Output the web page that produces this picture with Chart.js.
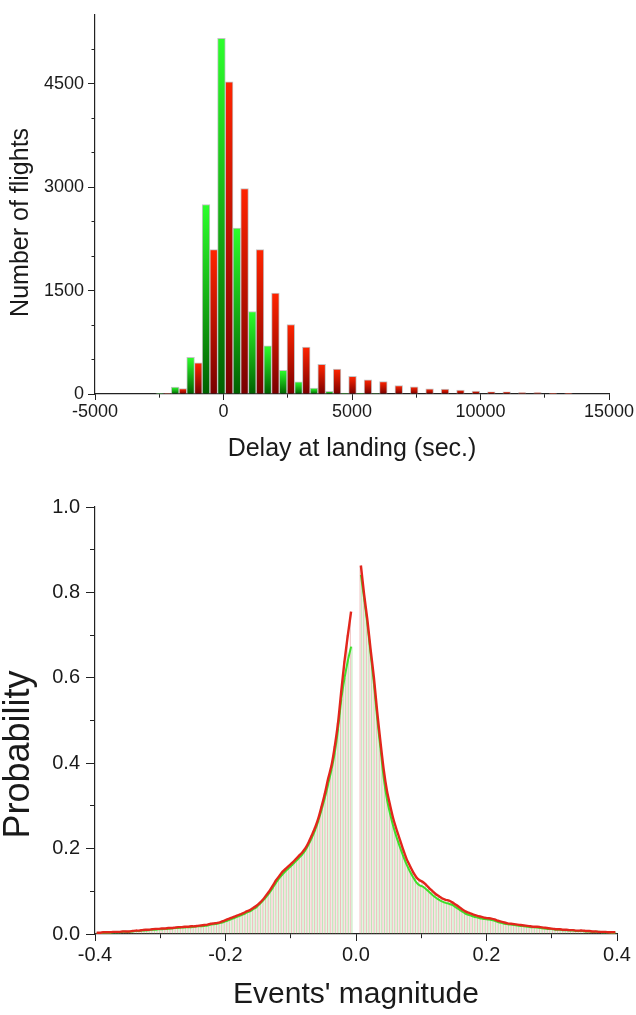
<!DOCTYPE html>
<html><head><meta charset="utf-8">
<script src="https://cdn.jsdelivr.net/npm/chart.js@4.4.0/dist/chart.umd.min.js"></script>
<style>
html,body{margin:0;padding:0;background:#fff;width:636px;height:1015px;overflow:hidden}
.box{position:absolute;left:0;width:636px}
canvas{display:block}
</style></head><body>
<div class="box" style="top:0;height:475px"><canvas id="c1" width="636" height="475"></canvas></div>
<div class="box" style="top:475px;height:540px"><canvas id="c2" width="636" height="540"></canvas></div>
<script>
// ---------- Top chart data: delay histogram (bin centres in seconds) ----------
const delayBins = [-2330,-1730,-1130,-530,70,670,1270,1870,2470,3070,3670,4270,4870,5470,6070,6670,7270,7870,8470,9070,9670,10270,10870,11470,12070,12670,13270];
const greenFlights = [8,100,532,2748,5160,2407,1196,698,342,176,85,38,14,14,5,null,null,null,null,null,null,null,null,null,null,null,null];
const redFlights = [8,80,451,2093,4529,2981,2093,1462,1008,680,430,360,255,205,180,123,104,76,71,57,43,33,33,19,19,9,9];
const delayTicksMajor = [-5000,0,5000,10000,15000];
const flightTicksMajor = [0,1500,3000,4500];

// ---------- Bottom chart data: probability vs events' magnitude ----------
const magnitude = [
-0.3975,-0.3925,-0.3875,-0.3825,-0.3775,-0.3725,-0.3675,-0.3625,-0.3575,-0.3525,
-0.3475,-0.3425,-0.3375,-0.3325,-0.3275,-0.3225,-0.3175,-0.3125,-0.3075,-0.3025,
-0.2975,-0.2925,-0.2875,-0.2825,-0.2775,-0.2725,-0.2675,-0.2625,-0.2575,-0.2525,
-0.2475,-0.2425,-0.2375,-0.2325,-0.2275,-0.2225,-0.2175,-0.2125,-0.2075,-0.2025,
-0.1975,-0.1925,-0.1875,-0.1825,-0.1775,-0.1725,-0.1675,-0.1625,-0.1575,-0.1525,
-0.1475,-0.1425,-0.1375,-0.1325,-0.1275,-0.1225,-0.1175,-0.1125,-0.1075,-0.1025,
-0.0975,-0.0925,-0.0875,-0.0825,-0.0775,-0.0725,-0.0675,-0.0625,-0.0575,-0.0525,
-0.0475,-0.0425,-0.0375,-0.0325,-0.0275,-0.0225,-0.0175,-0.0125,-0.0075,-0.0025,
0.0025,0.0075,0.0125,0.0175,0.0225,0.0275,0.0325,0.0375,0.0425,0.0475,
0.0525,0.0575,0.0625,0.0675,0.0725,0.0775,0.0825,0.0875,0.0925,0.0975,
0.1025,0.1075,0.1125,0.1175,0.1225,0.1275,0.1325,0.1375,0.1425,0.1475,
0.1525,0.1575,0.1625,0.1675,0.1725,0.1775,0.1825,0.1875,0.1925,0.1975,
0.2025,0.2075,0.2125,0.2175,0.2225,0.2275,0.2325,0.2375,0.2425,0.2475,
0.2525,0.2575,0.2625,0.2675,0.2725,0.2775,0.2825,0.2875,0.2925,0.2975,
0.3025,0.3075,0.3125,0.3175,0.3225,0.3275,0.3325,0.3375,0.3425,0.3475,
0.3525,0.3575,0.3625,0.3675,0.3725,0.3775,0.3825,0.3875,0.3925,0.3975];
const redProb = [
0.003,0.003,0.004,0.004,0.004,0.005,0.005,0.005,0.006,0.006,
0.006,0.007,0.008,0.008,0.009,0.010,0.010,0.011,0.012,0.012,
0.013,0.013,0.014,0.014,0.015,0.016,0.016,0.017,0.017,0.018,
0.018,0.019,0.020,0.021,0.022,0.024,0.025,0.026,0.028,0.031,
0.034,0.037,0.040,0.043,0.046,0.049,0.053,0.056,0.061,0.066,
0.073,0.081,0.091,0.101,0.113,0.126,0.136,0.146,0.153,0.160,
0.167,0.175,0.183,0.191,0.201,0.215,0.232,0.250,0.272,0.300,
0.330,0.365,0.395,0.440,0.495,0.570,0.640,0.700,0.755,null,
null,0.863,0.795,0.735,0.665,0.600,0.520,0.450,0.385,0.335,
0.300,0.268,0.243,0.220,0.197,0.176,0.160,0.145,0.133,0.126,
0.122,0.115,0.107,0.100,0.093,0.088,0.083,0.080,0.078,0.074,
0.069,0.064,0.058,0.053,0.050,0.047,0.044,0.042,0.040,0.038,
0.037,0.036,0.034,0.031,0.029,0.027,0.025,0.024,0.023,0.022,
0.021,0.020,0.019,0.018,0.017,0.017,0.016,0.015,0.014,0.013,
0.012,0.011,0.011,0.010,0.010,0.009,0.009,0.008,0.008,0.008,
0.007,0.007,0.006,0.006,0.005,0.005,0.005,0.004,0.004,0.004];
const greenProb = [
0.002,0.002,0.003,0.003,0.003,0.004,0.004,0.004,0.005,0.005,
0.005,0.006,0.007,0.007,0.008,0.008,0.009,0.010,0.010,0.011,
0.011,0.012,0.012,0.013,0.014,0.014,0.015,0.015,0.016,0.016,
0.017,0.018,0.018,0.019,0.020,0.022,0.023,0.024,0.026,0.028,
0.031,0.034,0.037,0.040,0.043,0.046,0.050,0.053,0.058,0.063,
0.070,0.078,0.087,0.097,0.108,0.120,0.131,0.140,0.148,0.155,
0.162,0.170,0.178,0.186,0.196,0.210,0.226,0.244,0.266,0.292,
0.320,0.352,0.385,0.425,0.480,0.550,0.600,0.640,0.673,null,
null,0.841,0.785,0.725,0.655,0.585,0.505,0.435,0.365,0.315,
0.280,0.250,0.225,0.203,0.182,0.163,0.147,0.133,0.121,0.114,
0.111,0.105,0.098,0.091,0.085,0.080,0.076,0.073,0.071,0.068,
0.063,0.058,0.053,0.048,0.045,0.042,0.040,0.038,0.036,0.035,
0.034,0.033,0.031,0.028,0.026,0.024,0.023,0.022,0.021,0.020,
0.019,0.018,0.017,0.016,0.016,0.015,0.014,0.013,0.012,0.012,
0.011,0.010,0.010,0.009,0.009,0.008,0.008,0.007,0.007,0.007,
0.006,0.006,0.005,0.005,0.005,0.004,0.004,0.004,0.003,0.003];

const FONT = "'Liberation Sans', Arial, Helvetica, sans-serif";
const INK = '#1a1a1a';

function barGradient(topColor, bottomColor) {
  return (ctx) => {
    const chart = ctx.chart;
    if (!chart.chartArea || ctx.type !== 'data' || !ctx.parsed || ctx.parsed.y == null) return topColor;
    const ys = chart.scales.y;
    const yTop = ys.getPixelForValue(ctx.parsed.y);
    const yBot = ys.getPixelForValue(0);
    if (!(yBot - yTop > 0.5)) return bottomColor;
    const g = chart.ctx.createLinearGradient(0, yTop, 0, yBot);
    g.addColorStop(0, topColor);
    g.addColorStop(1, bottomColor);
    return g;
  };
}

const yTitlePlugin = {
  id: 'yTitle',
  afterDraw(chart, args, o) {
    const {ctx, chartArea} = chart;
    ctx.save();
    ctx.font = o.font;
    ctx.fillStyle = o.color;
    ctx.textAlign = 'center';
    ctx.textBaseline = 'middle';
    ctx.translate(o.x, (chartArea.top + chartArea.bottom) / 2 + o.dy);
    ctx.rotate(-Math.PI / 2);
    ctx.fillText(o.text, 0, 0);
    ctx.restore();
  }
};

const minorDashLeft = (major, len) => (c) => major(c.tick.value) ? [] : [0, len, 100, 100];
const transparent = 'rgba(0,0,0,0)';

// ---------------- Top chart ----------------
new Chart(document.getElementById('c1'), {
  type: 'bar',
  data: {
    datasets: [
      { label: 'green', data: delayBins.map((x, i) => ({x, y: greenFlights[i]})),
        backgroundColor: barGradient('#2cff2c', '#006000'),
        borderColor: 'rgba(190,190,190,0.9)', borderWidth: 1, borderSkipped: 'bottom',
        barPercentage: 1, categoryPercentage: 1 },
      { label: 'red', data: delayBins.map((x, i) => ({x, y: redFlights[i]})),
        backgroundColor: barGradient('#ff2400', '#780000'),
        borderColor: 'rgba(190,190,190,0.9)', borderWidth: 1, borderSkipped: 'bottom',
        barPercentage: 1, categoryPercentage: 1 }
    ]
  },
  plugins: [yTitlePlugin],
  options: {
    responsive: false, animation: false, events: [],
    layout: { padding: { top: 7, right: 27, left: 0, bottom: 0 } },
    plugins: {
      legend: { display: false }, tooltip: { enabled: false },
      yTitle: { text: 'Number of flights', font: '25px ' + FONT, color: INK, x: 21, dy: 18 }
    },
    scales: {
      x: {
        type: 'linear', min: -5000, max: 15000, offset: false,
        afterFit: (s) => { s.height = 81; },
        ticks: { stepSize: 2500, autoSkip: false, maxRotation: 0, padding: 1, color: INK,
          font: { family: FONT, size: 18 },
          callback: (v) => delayTicksMajor.includes(v) ? String(v) : '' },
        grid: { offset: false, drawOnChartArea: false, tickLength: 6, tickColor: '#222', tickWidth: 1,
          tickBorderDash: (c) => delayTicksMajor.includes(c.tick.value) ? [] : [3.5, 100] },
        border: { color: '#222', width: 1.2 },
        title: { display: true, text: 'Delay at landing (sec.)', color: INK,
          font: { family: FONT, size: 25 }, padding: { top: 0, bottom: 11 } }
      },
      y: {
        type: 'linear', min: 0, max: 5500,
        afterFit: (s) => { s.width = 95; },
        ticks: { stepSize: 500, autoSkip: false, padding: 4, color: INK,
          font: { family: FONT, size: 18 },
          callback: (v) => flightTicksMajor.includes(v) ? String(v) : '' },
        grid: { drawOnChartArea: false, tickLength: 7, tickWidth: 1,
          tickColor: (c) => c.tick.value === 5500 ? transparent : '#222',
          tickBorderDash: minorDashLeft((v) => flightTicksMajor.includes(v), 3.5) },
        border: { color: '#222', width: 1.2 }
      }
    }
  }
});

// ---------------- Bottom chart ----------------
const isEvenTenth = (v) => Math.abs(Math.round(v * 10)) % 2 === 0;
const fmt1 = (v) => (Math.round(v * 10) / 10).toFixed(1);

new Chart(document.getElementById('c2'), {
  type: 'bar',
  data: {
    datasets: [
      { type: 'line', label: 'red curve', data: magnitude.map((x, i) => ({x, y: redProb[i]})),
        borderColor: '#e2261c', borderWidth: 2.4, pointRadius: 0, tension: 0.25, spanGaps: false, order: 0 },
      { type: 'line', label: 'green curve', data: magnitude.map((x, i) => ({x, y: greenProb[i]})),
        borderColor: '#3ede2a', borderWidth: 2, pointRadius: 0, tension: 0.25, spanGaps: false, order: 1 },
      { type: 'bar', label: 'red bars', data: magnitude.map((x, i) => ({x, y: redProb[i]})),
        backgroundColor: 'rgba(222,120,120,0.5)', borderWidth: 0,
        barPercentage: 0.62, categoryPercentage: 1, order: 2 },
      { type: 'bar', label: 'green bars', data: magnitude.map((x, i) => ({x, y: greenProb[i]})),
        backgroundColor: 'rgba(120,205,105,0.5)', borderWidth: 0,
        barPercentage: 0.62, categoryPercentage: 1, order: 3 }
    ]
  },
  plugins: [yTitlePlugin],
  options: {
    responsive: false, animation: false, events: [],
    layout: { padding: { top: 32, right: 19, left: 0, bottom: 0 } },
    plugins: {
      legend: { display: false }, tooltip: { enabled: false },
      yTitle: { text: 'Probability', font: '36px ' + FONT, color: INK, x: 19, dy: 34 }
    },
    scales: {
      x: {
        type: 'linear', min: -0.4, max: 0.4, offset: false,
        afterFit: (s) => { s.height = 81; },
        ticks: { stepSize: 0.1, autoSkip: false, maxRotation: 0, padding: 2, color: INK,
          font: { family: FONT, size: 20 },
          callback: (v) => isEvenTenth(v) ? fmt1(v) : '' },
        grid: { offset: false, drawOnChartArea: false, tickLength: 7, tickColor: '#222', tickWidth: 1,
          tickBorderDash: (c) => isEvenTenth(c.tick.value) ? [] : [4, 100] },
        border: { color: '#222', width: 1.2 },
        title: { display: true, text: "Events' magnitude", color: INK,
          font: { family: FONT, size: 30 }, padding: { top: 0, bottom: 2 } }
      },
      y: {
        type: 'linear', min: 0, max: 1,
        afterFit: (s) => { s.width = 95; },
        ticks: { stepSize: 0.1, autoSkip: false, padding: 6, color: INK,
          font: { family: FONT, size: 20 },
          callback: (v) => isEvenTenth(v) ? fmt1(v) : '' },
        grid: { drawOnChartArea: false, tickLength: 9, tickWidth: 1, tickColor: '#222',
          tickBorderDash: minorDashLeft(isEvenTenth, 4) },
        border: { color: '#222', width: 1.2 }
      }
    }
  }
});
</script>
</body></html>
